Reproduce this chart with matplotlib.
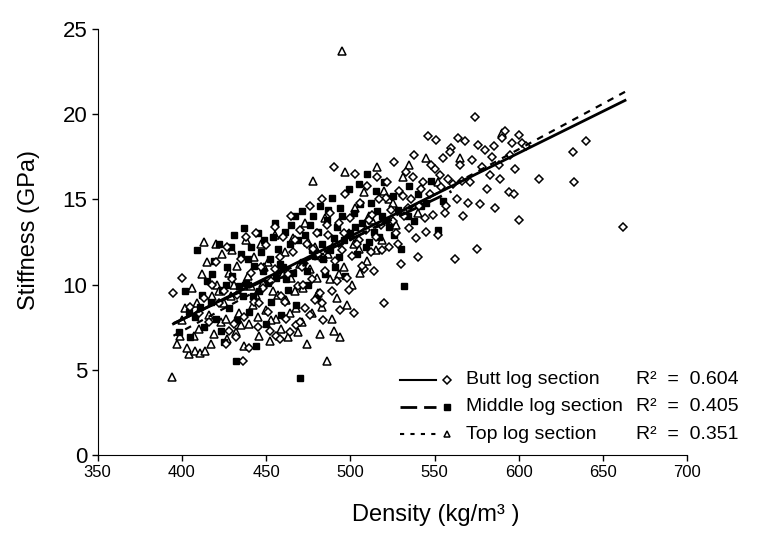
import numpy as np
import matplotlib
matplotlib.use("Agg")
import matplotlib.pyplot as plt
from matplotlib.lines import Line2D

plt.rcParams['font.family'] = ['Liberation Sans', 'DejaVu Sans']

# ---------------- data ----------------
butt_x = [395,400,405,410,413,416,418,420,422,425,427,428,430,432,433,435,436,437,438,440,441,443,444,445,447,448,450,451,453,455,456,458,459,460,462,463,465,466,468,469,470,471,473,474,476,477,479,480,481,483,484,485,487,488,489,490,491,493,494,495,497,498,500,501,502,503,505,506,508,509,510,512,513,515,516,518,520,521,523,524,526,527,529,530,532,533,535,536,538,539,540,541,543,544,546,547,549,550,551,552,554,555,557,558,560,562,563,565,566,568,570,572,574,575,577,578,580,583,585,586,588,590,592,594,596,597,600,600,602,612,632,633,640,662,
          455,461,467,472,478,482,486,492,496,499,504,507,511,514,517,519,522,525,528,531,534,537,542,545,548,553,556,559,561,564,567,571,576,581,584,589,595,598,604,446,452,458,464,470,476,483,426,431]
butt_y = [9.5,10.4,8.7,8.3,9.2,7.8,10.0,11.3,8.9,9.6,12.2,7.3,10.3,6.9,9.4,11.5,5.5,8.1,12.8,6.3,10.7,9.0,13.0,7.5,11.0,9.8,12.3,8.4,10.2,13.4,7.0,11.6,9.3,12.8,8.0,10.6,14.0,11.9,7.6,9.9,13.2,11.0,8.6,12.4,14.6,10.3,9.1,13.0,11.8,15.0,7.9,10.8,12.9,14.2,9.6,16.9,11.4,13.6,8.5,12.0,15.3,10.4,13.9,11.7,8.3,16.5,12.6,14.8,10.9,13.2,15.8,11.9,14.1,12.8,16.3,13.5,8.9,15.1,12.2,14.4,17.2,13.0,15.5,11.2,14.0,16.6,13.3,15.0,17.6,12.7,11.6,14.6,16.0,13.9,18.7,15.3,14.1,16.8,18.5,12.9,15.7,17.4,14.6,16.2,18.0,11.5,15.0,17.0,16.1,18.4,14.8,17.3,19.8,12.1,14.7,16.9,17.9,16.4,18.1,14.5,17.0,18.6,19.0,15.4,18.3,15.3,13.8,18.8,18.3,16.2,17.8,16.0,18.4,13.4,
          10.9,9.0,12.6,10.0,12.1,9.5,13.5,10.2,13.0,9.7,12.4,11.1,13.8,10.8,15.0,12.0,16.0,13.7,12.4,15.2,14.5,16.3,15.6,13.1,17.0,16.4,14.2,17.8,15.9,18.6,14.0,16.0,18.2,15.6,17.5,16.2,17.6,16.8,18.1,8.9,7.3,6.8,7.2,7.8,8.2,8.9,6.5,7.7]

middle_x = [398,402,405,408,409,411,413,415,417,419,420,422,424,425,427,428,430,431,432,433,435,436,437,438,440,441,443,444,445,446,448,449,450,452,453,455,456,457,459,460,461,463,464,466,467,468,470,471,472,473,475,476,478,479,480,482,483,485,486,488,489,491,492,494,496,497,499,500,502,504,505,507,509,510,512,514,515,517,519,520,523,525,528,530,532,535,538,542,545,548,552,555,
            404,412,418,423,426,429,434,439,442,447,451,454,458,462,465,469,474,477,481,484,487,490,493,495,498,503,506,511,516,521,526,534,540]
middle_y = [7.2,9.6,6.9,8.1,12.0,8.7,7.5,10.2,9.0,11.4,8.0,12.4,9.7,6.6,11.0,8.6,10.5,12.9,5.5,7.9,11.8,9.3,13.3,10.1,8.4,12.2,11.1,6.4,13.0,9.6,10.8,12.6,7.7,11.5,9.0,13.6,10.4,12.1,8.2,11.0,13.1,9.7,12.4,10.7,14.0,8.8,4.5,14.3,11.3,12.9,10.0,13.5,14.0,11.7,9.2,14.6,12.4,10.6,13.8,12.0,15.1,11.0,13.4,14.5,12.6,10.5,15.6,13.0,14.2,11.8,15.9,13.6,12.2,16.5,14.8,13.1,15.5,12.8,14.0,16.0,13.4,15.2,14.4,12.1,9.9,15.8,13.7,14.6,14.8,16.1,13.2,14.9,
            8.4,9.4,10.6,7.3,10.0,12.2,9.9,11.5,9.3,11.9,10.1,12.8,11.2,10.3,13.5,12.6,10.8,12.0,13.1,11.5,14.4,12.7,11.6,14.0,12.9,13.4,14.7,12.5,14.3,13.8,12.9,14.0,15.3]

top_x = [394,397,399,402,404,406,408,410,411,412,413,414,415,416,418,419,420,421,423,424,425,427,428,429,430,432,433,434,436,437,438,439,440,442,443,444,446,447,448,450,451,452,454,455,456,458,459,461,462,463,465,466,468,469,470,472,473,474,476,477,478,479,481,482,484,485,486,488,489,490,491,492,494,495,496,497,499,501,503,505,508,510,513,516,519,523,527,531,535,540,545,552,565,590,
         400,403,407,409,417,422,426,431,435,441,445,449,453,457,460,464,467,471,475,480,483,487,493,498,502,506,511,515,520,525]
top_y = [4.6,6.5,7.0,8.6,5.9,9.8,6.1,7.4,6.0,10.6,12.5,6.1,11.3,8.2,9.3,7.1,12.4,10.0,7.8,11.8,8.9,6.8,10.7,9.3,12.0,7.2,11.1,8.3,9.9,6.4,12.6,10.5,7.7,8.8,11.6,9.4,7.0,12.4,10.1,8.5,11.3,6.7,9.6,12.9,8.0,10.8,7.4,11.9,9.1,6.9,10.4,12.7,8.6,7.2,11.2,9.8,13.6,6.5,10.9,8.3,16.1,12.2,9.5,7.1,11.6,13.9,5.5,10.3,8.0,7.3,12.5,9.2,6.9,23.7,11.0,16.6,13.0,10.0,14.5,12.1,15.4,11.4,13.8,16.9,12.6,15.0,13.5,16.3,17.0,14.2,17.4,16.0,17.4,18.9,
         7.9,6.3,7.0,8.9,6.5,9.6,8.0,10.0,7.6,9.9,8.1,11.0,7.9,9.4,10.6,8.3,9.6,7.8,12.5,10.4,8.7,11.8,10.6,8.8,12.4,10.7,14.0,12.0,15.5,14.8]

# regression lines: (slope, intercept, x start, x end)
butt_fit = (0.0489, -11.62, 395, 663)
middle_fit = (0.0470, -10.85, 395, 560)
top_fit = (0.0534, -14.10, 395, 663)

r2_labels = ["R\u00b2  =  0.604", "R\u00b2  =  0.405", "R\u00b2  =  0.351"]
series_names = ["Butt log section", "Middle log section", "Top log section"]

# ---------------- figure ----------------
fig = plt.figure(figsize=(7.57, 5.34), dpi=100)
ax = fig.add_axes([0.129, 0.148, 0.779, 0.798])

ax.plot(top_x, top_y, linestyle='none', marker='^', markersize=6,
        markerfacecolor='white', markeredgecolor='black', markeredgewidth=1.1, zorder=3)
ax.plot(middle_x, middle_y, linestyle='none', marker='s', markersize=4.5,
        markerfacecolor='black', markeredgecolor='black', zorder=3)
ax.plot(butt_x, butt_y, linestyle='none', marker='D', markersize=4.3,
        markerfacecolor='white', markeredgecolor='black', markeredgewidth=1.1, zorder=3)

styles = [dict(linestyle='-', linewidth=2.0),
          dict(linestyle=(0, (7, 3)), linewidth=2.0),
          dict(linestyle=(0, (3, 3)), linewidth=1.6)]
for fit, st in zip([butt_fit, middle_fit, top_fit], styles):
    s, b, x0, x1 = fit
    xs = np.array([x0, x1])
    ax.plot(xs, s * xs + b, color='black', zorder=4, **st)

ax.set_xlim(350, 700)
ax.set_ylim(0, 25)
ax.set_xticks(np.arange(350, 701, 50))
ax.set_yticks(np.arange(0, 26, 5))
ax.spines['top'].set_visible(False)
ax.spines['right'].set_visible(False)
ax.tick_params(axis='x', labelsize=12, direction='out', length=4, width=1)
ax.tick_params(axis='y', labelsize=16, direction='out', length=4, width=1)
ax.set_xlabel("Density (kg/m\u00b3 )", fontsize=17)
ax.set_ylabel("Stiffness (GPa)", fontsize=17)
ax.xaxis.set_label_coords(0.574, -0.115)
ax.yaxis.set_label_coords(-0.098, 0.528)

# legend drawn manually
rows_y = [0.176, 0.113, 0.049]
markers = [dict(marker='D', markersize=4, markerfacecolor='white', markeredgecolor='black', markeredgewidth=1.1),
           dict(marker='s', markersize=4.5, markerfacecolor='black', markeredgecolor='black'),
           dict(marker='^', markersize=5, markerfacecolor='white', markeredgecolor='black', markeredgewidth=1.1)]
leg_styles = [dict(linestyle='-', linewidth=1.5),
              dict(linestyle=(0, (6, 2.5)), linewidth=2.0),
              dict(linestyle=(0, (2, 3)), linewidth=1.5)]
for yy, name, r2, mk, ls in zip(rows_y, series_names, r2_labels, markers, leg_styles):
    ax.add_line(Line2D([0.513, 0.573], [yy, yy], transform=ax.transAxes, color='black', **ls))
    ax.add_line(Line2D([0.593], [yy], transform=ax.transAxes, linestyle='none', **mk))
    ax.text(0.624, yy, name, transform=ax.transAxes, fontsize=14, va='center', ha='left')
    ax.text(0.913, yy, r2, transform=ax.transAxes, fontsize=14, va='center', ha='left')

fig.savefig("out.png", dpi=100)
